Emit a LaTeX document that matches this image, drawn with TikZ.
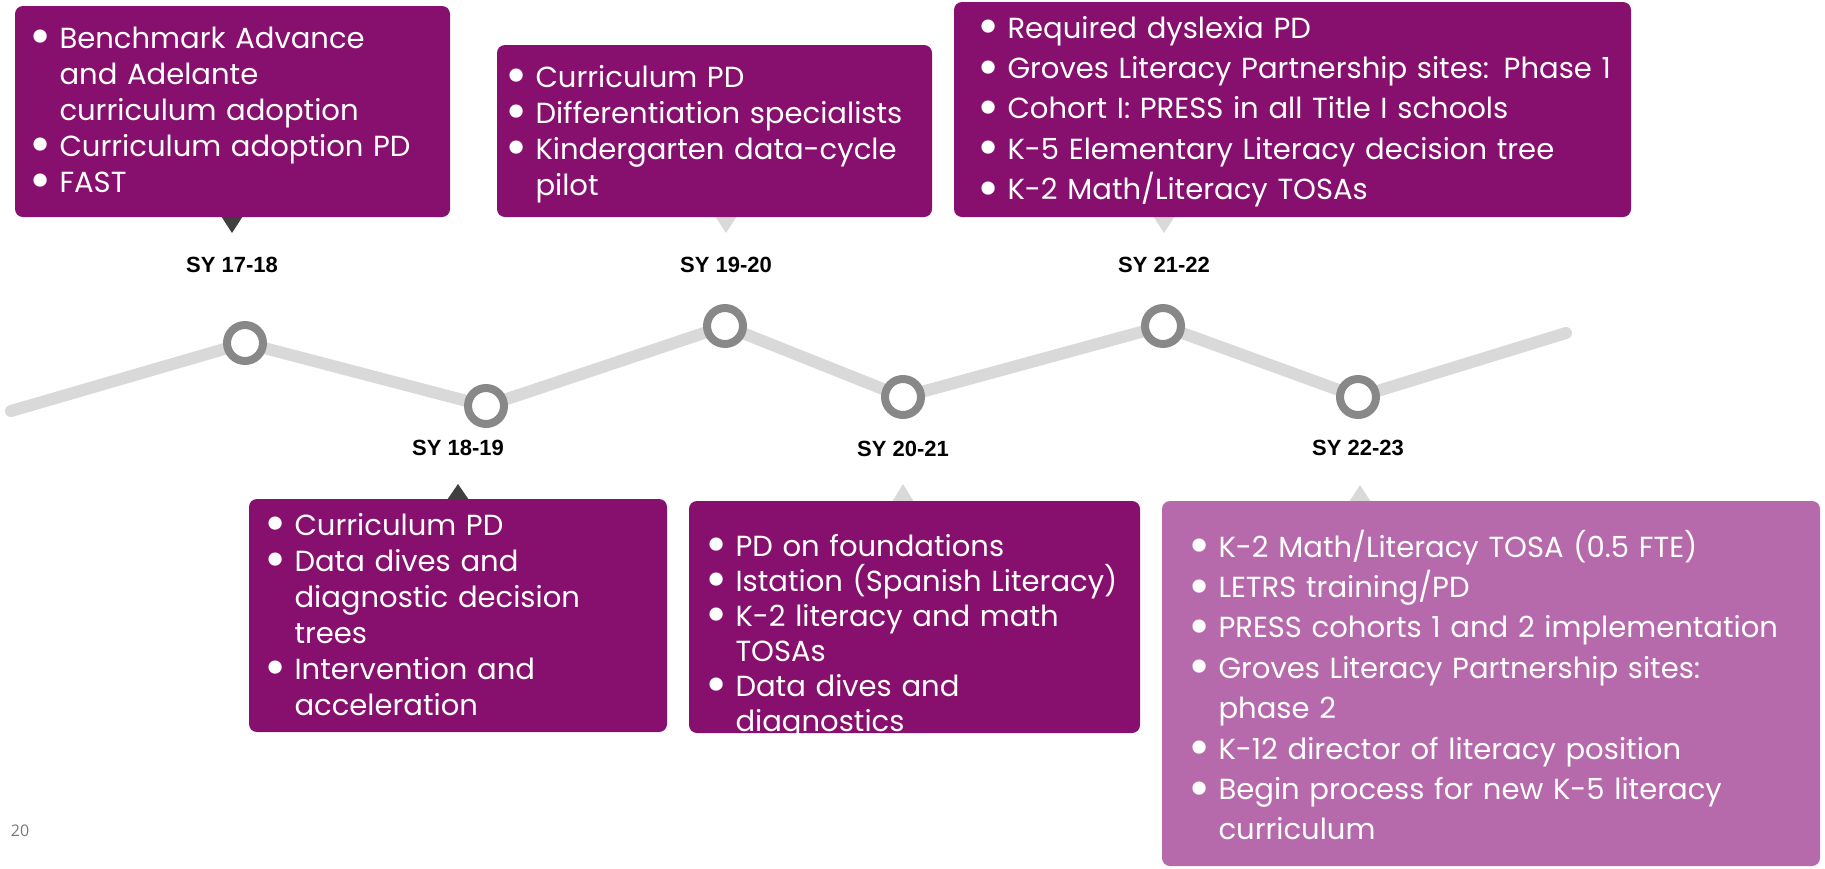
\documentclass[tikz,border=0pt]{standalone}
\usepackage{fontspec}
\setmainfont{Poppins}
\newfontfamily\yearfont{Liberation Sans}
\newfontfamily\slidefont{Open Sans}

\definecolor{plum}{RGB}{135,15,110}
\definecolor{orchid}{RGB}{182,106,172}
\definecolor{trackgrey}{RGB}{217,217,217}
\definecolor{ringgrey}{RGB}{136,136,136}
\definecolor{tipdark}{RGB}{64,64,64}
\definecolor{pagegrey}{RGB}{120,120,120}

\newcommand\bul{\leavevmode\llap{\makebox[28pt][c]{\smash{\raisebox{-5pt}{\scalebox{1.85}{\textbullet}}}}}}

\tikzset{every picture/.style={line width=0.75pt}}
\tikzset{
  card/.style={fill=plum, rounded corners=6pt},
  lightcard/.style={fill=orchid, rounded corners=6pt},
  items/.style={anchor=base west, inner sep=0pt, text=white, align=left, text width=#1, font=\fontsize{21.8}{27}\selectfont},
  wideitems/.style={items=#1, font=\fontsize{21.8}{30.3}\selectfont},
  yearlabel/.style={inner sep=0pt, font=\yearfont\bfseries\fontsize{16.5}{18}\selectfont},
  ring/.style={circle, draw=ringgrey, line width=6pt, fill=white, minimum size=27pt, inner sep=0pt},
  track/.style={draw=trackgrey, line width=9pt, line cap=round, line join=round}
}

\begin{document}
\begin{tikzpicture}[x=0.75pt,y=0.75pt,yscale=-1,xscale=1]
\useasboundingbox (0,0) rectangle (1825,868);

%Straight Lines: timeline
\coordinate (start) at (11,411);
\coordinate (p1) at (245,343);
\coordinate (p2) at (486,406);
\coordinate (p3) at (725,326);
\coordinate (p4) at (903,397);
\coordinate (p5) at (1163,326);
\coordinate (p6) at (1358,397);
\coordinate (stop) at (1566,333);
\draw [track] (start) -- (p1) -- (p2) -- (p3) -- (p4) -- (p5) -- (p6) -- (stop);

%Shape: Circle
\node [ring] (r1) at (p1) {};
\node [ring] (r2) at (p2) {};
\node [ring] (r3) at (p3) {};
\node [ring] (r4) at (p4) {};
\node [ring] (r5) at (p5) {};
\node [ring] (r6) at (p6) {};

%Shape: Rectangle + pointer
\fill [tipdark] (221,216) -- (232,233) -- (243,216) -- cycle ;
\fill [card] (15,6) rectangle (450,217) ;
\fill [trackgrey] (715,216) -- (726,233) -- (737,216) -- cycle ;
\fill [card] (497,45) rectangle (932,217) ;
\fill [trackgrey] (1153,216) -- (1164,233) -- (1175,216) -- cycle ;
\fill [card] (954,2) rectangle (1631,217) ;
\fill [tipdark] (447,500) -- (458,484) -- (469,500) -- cycle ;
\fill [card] (249,499) rectangle (667,732) ;
\fill [trackgrey] (892,502) -- (903,484) -- (914,502) -- cycle ;
\fill [card] (689,501) rectangle (1140,733) ;
\fill [trackgrey] (1349,502) -- (1360,485) -- (1371,502) -- cycle ;
\fill [lightcard] (1162,501) rectangle (1820,866) ;

% Text Node
\node [yearlabel] (y1) at (232,265) {SY 17-18};
\node [yearlabel] (y2) at (458,448) {SY 18-19};
\node [yearlabel] (y3) at (726,265) {SY 19-20};
\node [yearlabel] (y4) at (903,449) {SY 20-21};
\node [yearlabel] (y5) at (1164,265) {SY 21-22};
\node [yearlabel] (y6) at (1358,448) {SY 22-23};

% Text Node
\node [items=285pt] (t1) at (59,48) {\bul Benchmark Advance\\and Adelante\\curriculum adoption\\\bul Curriculum adoption PD\\\bul FAST};
% Text Node
\node [items=295pt] (t2) at (535,87) {\bul Curriculum PD\\\bul Differentiation specialists\\\bul Kindergarten data-cycle\\pilot};
% Text Node
\node [wideitems=466pt] (t3) at (1007,38) {\bul Required dyslexia PD\\\bul Groves Literacy Partnership sites: Phase 1\\\bul Cohort I: PRESS in all Title I schools\\\bul K-5 Elementary Literacy decision tree\\\bul K-2 Math/Literacy TOSAs};
% Text Node
\node [items=278pt] (t4) at (294,535) {\bul Curriculum PD\\\bul Data dives and\\diagnostic decision\\trees\\\bul Intervention and\\acceleration};
% Text Node
\begin{scope}
\clip [rounded corners=6pt] (689,501) rectangle (1140,733) ;
\node [items=300pt, font=\fontsize{21.8}{26.25}\selectfont] (t5) at (735,556) {\bul PD on foundations\\\bul Istation (Spanish Literacy)\\\bul K-2 literacy and math\\TOSAs\\\bul Data dives and\\diagnostics};
\end{scope}
% Text Node
\node [wideitems=450pt] (t6) at (1218,557) {\bul K-2 Math/Literacy TOSA (0.5 FTE)\\\bul LETRS training/PD\\\bul PRESS cohorts 1 and 2 implementation\\\bul Groves Literacy Partnership sites:\\phase 2\\\bul K-12 director of literacy position\\\bul Begin process for new K-5 literacy\\curriculum};

% Text Node
\node [inner sep=0pt, text=pagegrey, font=\slidefont\fontsize{12}{14}\selectfont] (pg) at (20,831) {20};

\end{tikzpicture}
\end{document}
